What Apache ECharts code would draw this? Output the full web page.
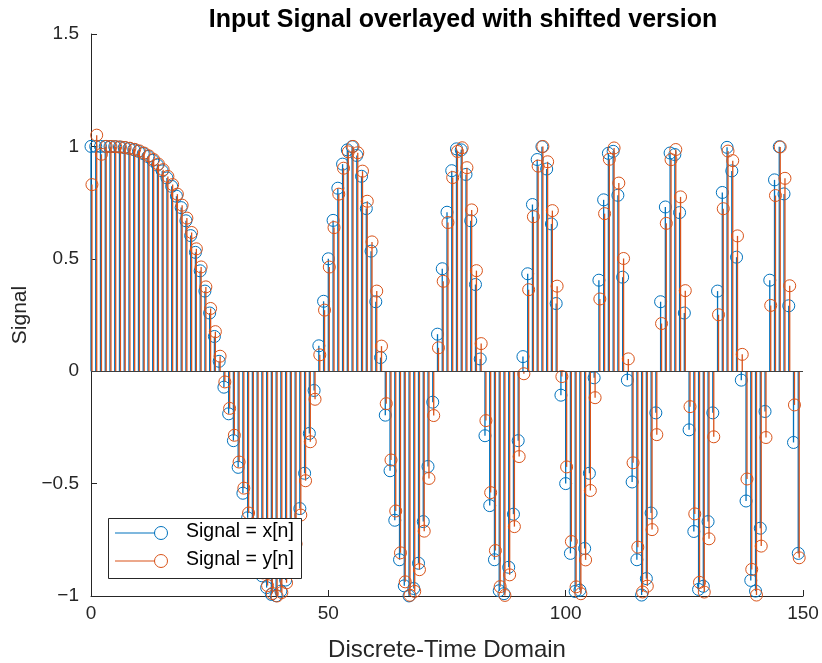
<!DOCTYPE html>
<html>
<head>
<meta charset="utf-8">
<script src="https://cdn.jsdelivr.net/npm/echarts@6/dist/echarts.min.js"></script>
<style>
html,body{margin:0;padding:0;background:#fff;}
#chart{width:822px;height:663px;}
</style>
</head>
<body>
<div id="chart"></div>
<script>
// Sample index n = 0..149
const nIdx = Array.from({length:150}, (_, i) => i);
// shifted version is drawn slightly to the right of the input samples
const yShift = 0.2;

const xTicks = [0, 50, 100, 150];
const yTicks = [-1, -0.5, 0, 0.5, 1, 1.5];

// Input signal x[n]
const xVals = [
1, 1, 1, 0.9998, 0.9994, 0.9986, 0.9972, 0.9947, 0.9910, 0.9856,
0.9781, 0.9681, 0.9549, 0.9380, 0.9169, 0.8910, 0.8597, 0.8223, 0.7785, 0.7277,
0.6691, 0.6032, 0.5287, 0.4465, 0.3564, 0.2588, 0.1544, 0.0440, -0.0711, -0.1895,
-0.3090, -0.4277, -0.5429, -0.6521, -0.7515, -0.8387, -0.9101, -0.9626, -0.9931, -0.9990,
-0.9781, -0.9290, -0.8510, -0.7447, -0.6111, -0.4540, -0.2770, -0.0858, 0.1129, 0.3110,
0.5, 0.6709, 0.8140, 0.9211, 0.9846, 0.9986, 0.9597, 0.8671, 0.7234, 0.5341,
0.3090, 0.0607, -0.1956, -0.4428, -0.6630, -0.8387, -0.9549, -0.9997, -0.9665, -0.8543,
-0.6691, -0.4239, -0.1378, 0.1647, 0.4558, 0.7071, 0.8919, 0.9890, 0.9846, 0.8753,
0.6691, 0.3856, 0.0544, -0.2870, -0.5979, -0.8387, -0.9764, -0.9896, -0.8722, -0.6360,
-0.3090, 0.0649, 0.4334, 0.7414, 0.9416, 0.9986, 0.8994, 0.6550, 0.3010, -0.1066,
-0.5, -0.8104, -0.9799, -0.9740, -0.7887, -0.4540, -0.0293, 0.4048, 0.7623, 0.9691,
0.9781, 0.7825, 0.4182, -0.0398, -0.4927, -0.8387, -0.9958, -0.9227, -0.6309, -0.1853,
0.3090, 0.7305, 0.9707, 0.9637, 0.7056, 0.2588, -0.2608, -0.7129, -0.9707, -0.9567,
-0.6691, -0.1853, 0.3564, 0.7951, 0.9958, 0.8910, 0.5072, -0.0398, -0.5774, -0.9306,
-0.9781, -0.6984, -0.1792, 0.4048, 0.8511, 0.9986, 0.7888, 0.2910, -0.3170, -0.8104
];

// Shifted signal y[n]
const yVals = [
0.83, 1.05, 0.965, 1.0, 0.9995, 0.9988, 0.9975, 0.9953, 0.9919, 0.9869,
0.9799, 0.9703, 0.9578, 0.9417, 0.9215, 0.8966, 0.8664, 0.8303, 0.7877, 0.7385,
0.6811, 0.6171, 0.5443, 0.4637, 0.3751, 0.2790, 0.1759, 0.0666, -0.0477, -0.1655,
-0.2850, -0.4040, -0.5202, -0.6308, -0.7323, -0.8223, -0.8972, -0.9537, -0.9889, -0.9999,
-0.9846, -0.9412, -0.8690, -0.7682, -0.6399, -0.4872, -0.3138, -0.1249, 0.0728, 0.2717,
0.4633, 0.6388, 0.7877, 0.9029, 0.9756, 1.0000, 0.9718, 0.8899, 0.7560, 0.5752,
0.3564, 0.1116, -0.1444, -0.3949, -0.6218, -0.8079, -0.9370, -0.9969, -0.9795, -0.8829,
-0.7115, -0.4771, -0.1973, 0.1041, 0.3999, 0.6613, 0.8614, 0.9774, 0.9939, 0.9054,
0.7175, 0.4473, 0.1228, -0.2198, -0.5401, -0.7978, -0.9583, -0.9974, -0.9059, -0.6914,
-0.3798, -0.0113, 0.3626, 0.6871, 0.9122, 0.9996, 0.9316, 0.7143, 0.3783, -0.0239,
-0.4258, -0.7578, -0.9592, -0.9899, -0.8394, -0.5306, -0.1178, 0.3213, 0.7009, 0.9426,
0.9931, 0.8369, 0.5014, 0.0548, -0.4074, -0.7827, -0.9821, -0.9560, -0.7047, -0.2822,
0.2120, 0.6576, 0.9410, 0.9861, 0.7754, 0.3584, -0.1577, -0.6347, -0.9393, -0.9825,
-0.7456, -0.2918, 0.2511, 0.7229, 0.9792, 0.9366, 0.6019, 0.0749, -0.4795, -0.8817,
-0.9958, -0.778, -0.295, 0.2926, 0.7815, 0.9976, 0.858, 0.38, -0.15, -0.83
];

const seriesNames = ['Signal = x[n]', 'Signal = y[n]'];
const colors = ['#0072BD', '#D95319'];
const FONT = '"Liberation Sans", Arial, Helvetica, sans-serif';
const TXT = '#262626';

function fmtTick(v) {
  return String(v).replace('-', '\u2212');
}

function stemRenderer(color) {
  return function (params, api) {
    const x = api.value(0), v = api.value(1);
    const b = api.coord([x, 0]);
    const t = api.coord([x, v]);
    return {
      type: 'group',
      children: [
        {type: 'line', shape: {x1: b[0], y1: b[1], x2: t[0], y2: t[1]},
         style: {stroke: color, lineWidth: 1.3}},
        {type: 'circle', shape: {cx: t[0], cy: t[1], r: 6},
         style: {stroke: color, fill: 'none', lineWidth: 1}}
      ]
    };
  };
}

const chart = echarts.init(document.getElementById('chart'), null, {renderer: 'canvas'});

const legendX = 108, legendY = 518;
const option = {
  backgroundColor: '#fff',
  animation: false,
  title: {
    text: 'Input Signal overlayed with shifted version',
    left: 458, top: 3, textAlign: 'center',
    textStyle: {fontFamily: FONT, fontSize: 25, fontWeight: 'bold', color: '#000'}
  },
  grid: {left: 91, right: 19, top: 34, bottom: 67, containLabel: false, outerBoundsMode: 'none'},
  xAxis: {
    type: 'value', min: xTicks[0], max: xTicks[xTicks.length - 1], interval: 50,
    name: 'Discrete-Time Domain', nameLocation: 'middle', nameGap: 42,
    nameTextStyle: {fontFamily: FONT, fontSize: 24, color: TXT},
    axisLine: {onZero: false, lineStyle: {color: TXT, width: 1}},
    axisTick: {inside: true, length: 6, lineStyle: {color: TXT}},
    axisLabel: {fontFamily: FONT, fontSize: 19, color: TXT, margin: 8, formatter: fmtTick},
    splitLine: {show: false}
  },
  yAxis: {
    type: 'value', min: yTicks[0], max: yTicks[yTicks.length - 1], interval: 0.5,
    name: 'Signal', nameLocation: 'middle', nameGap: 56, nameRotate: 90,
    nameTextStyle: {fontFamily: FONT, fontSize: 21, color: TXT},
    axisLine: {onZero: false, lineStyle: {color: TXT, width: 1}},
    axisTick: {inside: true, length: 6, lineStyle: {color: TXT}},
    axisLabel: {fontFamily: FONT, fontSize: 19, color: TXT, margin: 12, formatter: fmtTick},
    splitLine: {show: false}
  },
  series: [
    {
      name: seriesNames[0], type: 'custom', renderItem: stemRenderer(colors[0]),
      data: nIdx.map((n, i) => [n, xVals[i]]),
      encode: {x: 0, y: 1}, z: 2,
      markLine: {
        silent: true, symbol: 'none', label: {show: false},
        lineStyle: {color: '#404040', width: 1, type: 'solid'},
        data: [{yAxis: 0}]
      }
    },
    {
      name: seriesNames[1], type: 'custom', renderItem: stemRenderer(colors[1]),
      data: nIdx.map((n, i) => [n + yShift, yVals[i]]),
      encode: {x: 0, y: 1}, z: 3
    }
  ],
  graphic: [
    {type: 'rect', left: legendX, top: legendY, z: 100,
     shape: {width: 193, height: 60},
     style: {fill: '#fff', stroke: TXT, lineWidth: 1}},
    {type: 'line', z: 101, shape: {x1: 115, y1: 533, x2: 155, y2: 533}, style: {stroke: colors[0], lineWidth: 1.2}},
    {type: 'circle', z: 101, shape: {cx: 161, cy: 533, r: 6.5}, style: {stroke: colors[0], fill: 'none', lineWidth: 1}},
    {type: 'text', z: 101, left: 186, top: 533 - 11,
     style: {text: seriesNames[0], font: '19.5px ' + FONT, fill: '#000'}},
    {type: 'line', z: 101, shape: {x1: 115, y1: 561, x2: 155, y2: 561}, style: {stroke: colors[1], lineWidth: 1.2}},
    {type: 'circle', z: 101, shape: {cx: 161, cy: 561, r: 6.5}, style: {stroke: colors[1], fill: 'none', lineWidth: 1}},
    {type: 'text', z: 101, left: 186, top: 561 - 11,
     style: {text: seriesNames[1], font: '19.5px ' + FONT, fill: '#000'}}
  ]
};
chart.setOption(option);
</script>
</body>
</html>
